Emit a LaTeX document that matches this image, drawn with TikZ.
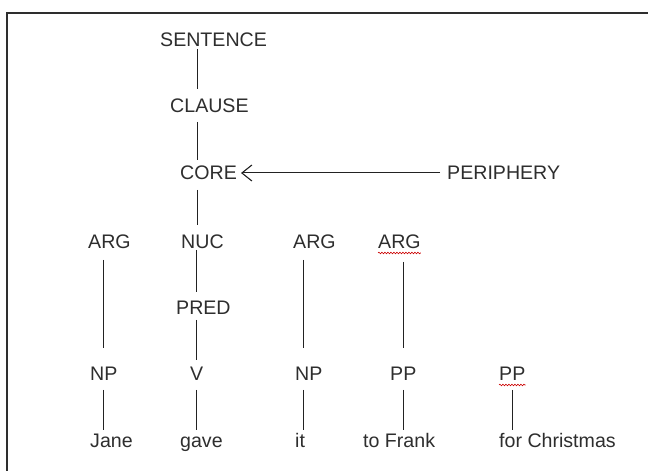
\documentclass[tikz,border=0pt]{standalone}
\usepackage{fontspec}
\setmainfont{Liberation Sans}
\usetikzlibrary{calc,arrows.meta,decorations.pathmorphing}
\definecolor{txt}{HTML}{2E2E2E}
\definecolor{ln}{HTML}{222222}
\begin{document}
\begin{tikzpicture}[x=1pt,y=1pt,
  lbl/.style={anchor=base west,inner sep=0pt,text=txt,font=\fontsize{19.6}{22}\selectfont},
  conn/.style={draw=ln,line width=1pt},
  squig/.style={draw=red!80!black,line width=0.6pt,decorate,decoration={snake,amplitude=0.8pt,segment length=3pt}}]
\useasboundingbox (0,0) rectangle (648,471);
\fill[white] (0,0) rectangle (648,471);
% frame
\draw[draw=txt,line width=2pt] (7,0) -- (7,458) -- (648,458);
% nodes
\node[lbl] (sent) at (160,424) {SENTENCE};
\node[lbl] (clause) at (170,358) {CLAUSE};
\node[lbl] (core) at (180,291) {CORE};
\node[lbl] (peri) at (447,291) {PERIPHERY};
\node[lbl] (arg1) at (88,222) {ARG};
\node[lbl] (nuc) at (181,222) {NUC};
\node[lbl] (arg2) at (293,222) {ARG};
\node[lbl] (arg3) at (378,222) {ARG};
\node[lbl] (pred) at (176,156) {PRED};
\node[lbl] (np1) at (90,90) {NP};
\node[lbl] (v) at (190,90) {V};
\node[lbl] (np2) at (295,90) {NP};
\node[lbl] (pp1) at (390,90) {PP};
\node[lbl] (pp2) at (499,90) {PP};
\node[lbl] (jane) at (90,23) {Jane};
\node[lbl] (gave) at (180,23) {gave};
\node[lbl] (it) at (295,23) {it};
\node[lbl] (frank) at (363,23) {to Frank};
\node[lbl] (xmas) at (499,23) {for Christmas};
% connectors
\draw[conn] ($(sent.base west)+(37,-2)$) -- ($(clause.base west)+(27,24)$);
\draw[conn] ($(clause.base west)+(27,-9)$) -- ($(core.base west)+(17,20)$);
\draw[conn] ($(core.base west)+(17,-10)$) -- ($(nuc.base west)+(16,24)$);
\draw[conn] ($(nuc.base west)+(15,-1)$) -- ($(pred.base west)+(20,23)$);
\draw[conn] ($(pred.base west)+(20,-5)$) -- ($(v.base west)+(6,21)$);
\draw[conn] ($(v.base west)+(6,-9)$) -- ($(gave.base west)+(16,18)$);
\draw[conn] ($(arg1.base west)+(15,-11)$) -- ($(np1.base west)+(13,33)$);
\draw[conn] ($(np1.base west)+(13,-9)$) -- ($(jane.base west)+(13,18)$);
\draw[conn] ($(arg2.base west)+(10,-11)$) -- ($(np2.base west)+(8,33)$);
\draw[conn] ($(np2.base west)+(8,-9)$) -- ($(it.base west)+(8,18)$);
\draw[conn] ($(arg3.base west)+(25,-13)$) -- ($(pp1.base west)+(13,33)$);
\draw[conn] ($(pp1.base west)+(13,-9)$) -- ($(frank.base west)+(40,18)$);
\draw[conn] ($(pp2.base west)+(13,-9)$) -- ($(xmas.base west)+(13,18)$);
\draw[conn,-{Straight Barb[length=10pt,width=16pt,line width=1.1pt]}] ($(peri.base west)+(-7,7)$) -- ($(core.base east)+(4,7)$);
% spell-check squiggles
\draw[squig] ($(arg3.base west)+(0,-4)$) -- ($(arg3.base east)+(0,-4)$);
\draw[squig] ($(pp2.base west)+(0,-4)$) -- ($(pp2.base east)+(0,-4)$);
\end{tikzpicture}
\end{document}
